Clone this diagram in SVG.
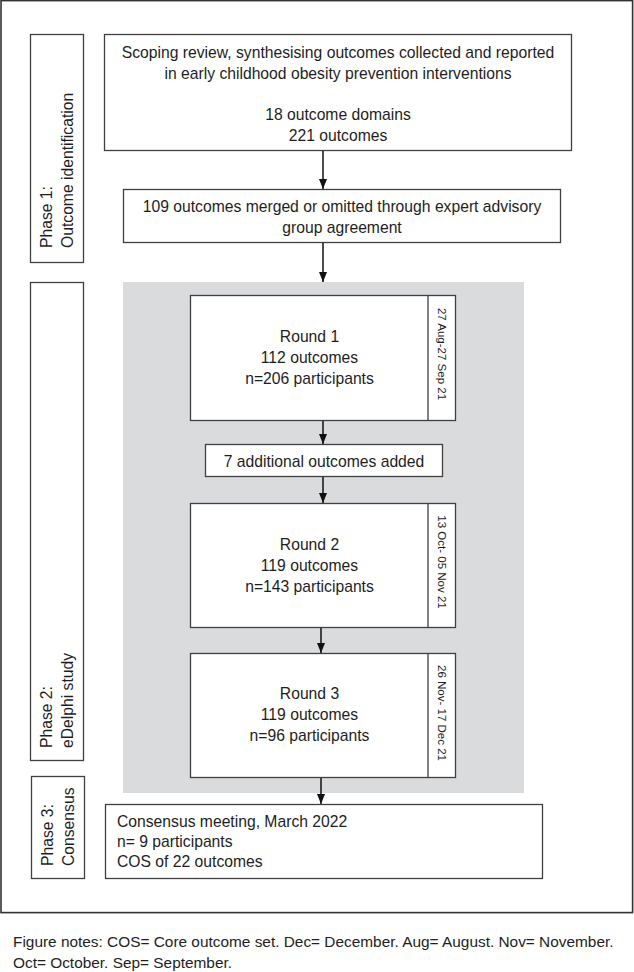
<svg xmlns="http://www.w3.org/2000/svg" width="634" height="972" viewBox="0 0 634 972">
<style>
.t{font-family:"Liberation Sans",Arial,sans-serif;font-size:15.7px;fill:#1e1e1e}
.n{font-family:"Liberation Sans",Arial,sans-serif;font-size:15.4px;fill:#1e1e1e}
.d{font-family:"Liberation Sans",Arial,sans-serif;font-size:11.5px;fill:#1e1e1e}
.b{fill:#fff;stroke:#404040;stroke-width:1.3}
.c{stroke:#111;stroke-width:1.5;fill:none}
</style>
<defs>
<marker id="ah" viewBox="0 0 10 8" refX="10" refY="4" markerWidth="10" markerHeight="8" markerUnits="userSpaceOnUse" orient="auto">
<path d="M0,0 L10,4 L0,8 z" fill="#111"/>
</marker>
</defs>
<rect x="0" y="0" width="634" height="972" fill="#fff"/>
<rect id="frame" x="1" y="0.6" width="631.6" height="912" fill="none" stroke="#333" stroke-width="1.6"/>
<rect id="delphi-bg" x="123" y="282" width="401" height="511" fill="#dadbdc"/>

<g id="phase1">
<rect class="b" x="30.5" y="34.5" width="53" height="228"/>
<text class="t" transform="translate(52,248) rotate(-90)"><tspan x="0" y="0">Phase 1:</tspan><tspan x="0" dy="20.5">Outcome identification</tspan></text>
</g>
<g id="phase2">
<rect class="b" x="30.5" y="282.5" width="53" height="478"/>
<text class="t" transform="translate(52,748) rotate(-90)"><tspan x="0" y="0">Phase 2:</tspan><tspan x="0" dy="20.5">eDelphi study</tspan></text>
</g>
<g id="phase3">
<rect class="b" x="31.5" y="776.5" width="53" height="102"/>
<text class="t" transform="translate(53,866) rotate(-90)"><tspan x="0" y="0">Phase 3:</tspan><tspan x="0" dy="20.5">Consensus</tspan></text>
</g>

<g id="scoping">
<rect class="b" x="104.5" y="34.5" width="467" height="116"/>
<text class="t" text-anchor="middle"><tspan x="338" y="58">Scoping review, synthesising outcomes collected and reported</tspan><tspan x="338" y="79">in early childhood obesity prevention interventions</tspan><tspan x="338" y="120">18 outcome domains</tspan><tspan x="338" y="141">221 outcomes</tspan></text>
</g>
<g id="merged">
<rect class="b" x="123.5" y="189.5" width="437" height="53"/>
<text class="t" text-anchor="middle"><tspan x="342" y="212">109 outcomes merged or omitted through expert advisory</tspan><tspan x="342" y="233">group agreement</tspan></text>
</g>
<g id="round1">
<rect class="b" x="190.5" y="295.5" width="265" height="125"/>
<line x1="428" y1="295.5" x2="428" y2="420.5" stroke="#404040" stroke-width="1.3"/>
<text class="t" text-anchor="middle"><tspan x="309.5" y="342">Round 1</tspan><tspan x="309.5" y="363">112 outcomes</tspan><tspan x="309.5" y="384">n=206 participants</tspan></text>
<text class="d" text-anchor="middle" transform="translate(438,354) rotate(90)">27 Aug-27 Sep 21</text>
</g>
<g id="added">
<rect class="b" x="205.5" y="444.5" width="237" height="32"/>
<text class="t" text-anchor="middle" x="324" y="467">7 additional outcomes added</text>
</g>
<g id="round2">
<rect class="b" x="190.5" y="503.5" width="265" height="124"/>
<line x1="428" y1="503.5" x2="428" y2="627.5" stroke="#404040" stroke-width="1.3"/>
<text class="t" text-anchor="middle"><tspan x="309.5" y="550">Round 2</tspan><tspan x="309.5" y="571">119 outcomes</tspan><tspan x="309.5" y="592">n=143 participants</tspan></text>
<text class="d" text-anchor="middle" transform="translate(438,562) rotate(90)">13 Oct- 05 Nov 21</text>
</g>
<g id="round3">
<rect class="b" x="190.5" y="653.5" width="265" height="124"/>
<line x1="428" y1="653.5" x2="428" y2="777.5" stroke="#404040" stroke-width="1.3"/>
<text class="t" text-anchor="middle"><tspan x="309.5" y="699">Round 3</tspan><tspan x="309.5" y="720">119 outcomes</tspan><tspan x="309.5" y="741">n=96 participants</tspan></text>
<text class="d" text-anchor="middle" transform="translate(438,713) rotate(90)">26 Nov- 17 Dec 21</text>
</g>
<g id="consensus">
<rect class="b" x="105.5" y="804.5" width="437" height="74"/>
<text class="t"><tspan x="117" y="827">Consensus meeting, March 2022</tspan><tspan x="117" y="847">n= 9 participants</tspan><tspan x="117" y="867">COS of 22 outcomes</tspan></text>
</g>

<g id="connectors">
<line class="c" x1="323" y1="151" x2="323" y2="189" marker-end="url(#ah)"/>
<line class="c" x1="323" y1="243" x2="323" y2="282" marker-end="url(#ah)"/>
<line class="c" x1="323" y1="421" x2="323" y2="444" marker-end="url(#ah)"/>
<line class="c" x1="323" y1="477" x2="323" y2="503" marker-end="url(#ah)"/>
<line class="c" x1="321" y1="628" x2="321" y2="653" marker-end="url(#ah)"/>
<line class="c" x1="321" y1="778" x2="321" y2="804" marker-end="url(#ah)"/>
</g>

<text class="n" id="notes"><tspan x="13" y="947">Figure notes: COS= Core outcome set. Dec= December. Aug= August. Nov= November.</tspan><tspan x="13" y="968">Oct= October. Sep= September.</tspan></text>
</svg>
